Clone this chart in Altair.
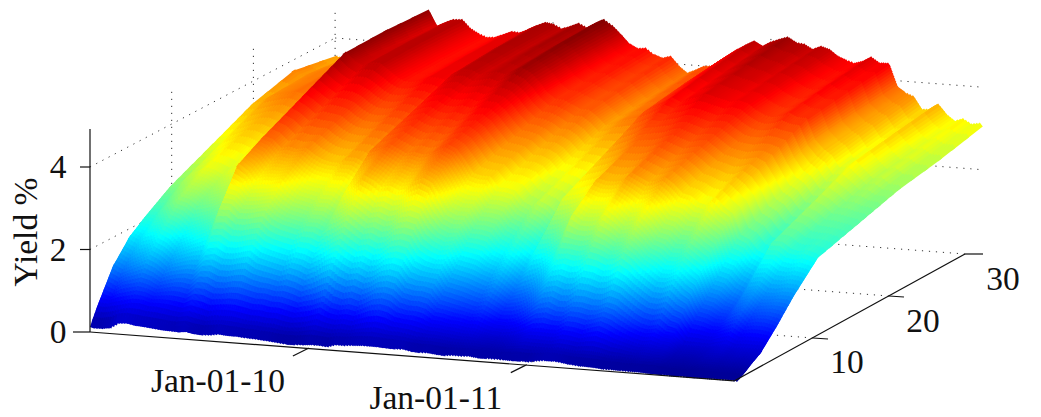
import altair as alt
import numpy as np
import pandas as pd

# Yield (%): one list per maturity, one value per two-week date
first_date = "2009-01-02"
maturities = [0.08, 1, 2, 3, 5, 7, 10, 20, 25, 30]
y_1m = [.02,.02,.05,.2,.2,.15,.15,.12,.1,.1,
        .1,.12,.08,.08,.08,.13,.1,.11,.1,.09,
        .08,.06,.05,.03,.02,.02,.03,.04,.03,.1,
        .11,.12,.12,.11,.12,.12,.11,.13,.1,.08,
        .09,.07,.06,.09,.08,.1,.08,.09,.09,.07,
        .06,.05,.05,.1,.14,.13,.11,.08,.05,.04,
        .04,.03,.03,.03,.03,.02,.02,.02,.02,.01,
        .01,.01,.01,.01,.01,.01,.01,.0]
y_1y = [.45,.45,.5,.55,.6,.6,.55,.55,.52,.48,
        .45,.5,.45,.4,.45,.45,.45,.42,.38,.38,
        .35,.35,.3,.28,.3,.35,.4,.35,.32,.35,
        .33,.38,.42,.45,.42,.38,.38,.35,.3,.3,
        .3,.28,.25,.24,.25,.25,.22,.2,.2,.24,
        .26,.3,.28,.28,.27,.3,.28,.25,.27,.27,
        .25,.2,.2,.18,.17,.2,.18,.16,.12,.11,
        .1,.1,.1,.12,.11,.11,.11,.12]
y_2y = [.85,.75,.9,.95,1.0,.95,.85,.9,.95,.95,
        .9,1.1,1.1,1.0,1.0,1.05,1.05,1.0,.95,.95,
        .9,.9,.85,.78,.85,.9,1.0,.85,.8,.85,
        .8,.9,1.02,1.05,1.0,.85,.8,.8,.75,.62,
        .6,.55,.55,.5,.5,.42,.38,.36,.38,.42,
        .5,.6,.62,.6,.6,.72,.7,.65,.72,.78,
        .7,.6,.52,.45,.4,.43,.38,.35,.22,.2,
        .2,.22,.27,.28,.25,.27,.25,.27]
y_3y = [1.25,1.15,1.25,1.35,1.45,1.35,1.2,1.3,1.35,1.4,
        1.4,1.65,1.7,1.6,1.6,1.65,1.7,1.55,1.5,1.45,
        1.4,1.5,1.45,1.35,1.45,1.6,1.7,1.55,1.45,1.5,
        1.4,1.45,1.6,1.65,1.6,1.35,1.3,1.3,1.25,1.0,
        .95,.9,.85,.8,.85,.75,.65,.65,.7,.8,
        .95,1.1,1.15,1.05,1.05,1.2,1.2,1.15,1.15,1.25,
        1.2,1.05,.9,.8,.75,.8,.65,.6,.35,.35,
        .35,.35,.4,.45,.38,.4,.4,.4]
y_5y = [1.75,1.65,1.85,1.9,2.05,1.95,1.75,1.85,1.95,2.05,
        2.2,2.7,2.7,2.5,2.5,2.55,2.6,2.4,2.3,2.25,
        2.2,2.3,2.3,2.2,2.4,2.5,2.65,2.5,2.35,2.4,
        2.3,2.35,2.55,2.6,2.55,2.2,2.05,1.95,2.0,1.65,
        1.6,1.55,1.45,1.38,1.48,1.32,1.15,1.25,1.35,1.5,
        1.7,1.95,2.0,1.95,2.0,2.2,2.15,2.05,2.1,2.25,
        2.1,1.9,1.75,1.6,1.6,1.7,1.5,1.35,.95,.9,
        .8,.8,.95,1.05,.85,.9,.9,.85]
y_7y = [2.05,2.05,2.25,2.4,2.55,2.5,2.35,2.4,2.45,2.55,
        2.7,3.45,3.3,3.05,3.1,3.1,3.15,2.95,2.8,2.75,
        2.7,2.85,2.85,2.7,3.05,3.2,3.4,3.3,3.15,3.2,
        3.1,3.15,3.35,3.45,3.35,3.05,2.7,2.6,2.6,2.3,
        2.3,2.25,2.0,1.9,2.05,1.9,1.75,2.05,2.1,2.25,
        2.4,2.85,2.7,2.7,2.75,3.0,2.85,2.65,2.7,2.9,
        2.7,2.45,2.4,2.2,2.2,2.35,2.2,2.05,1.5,1.45,
        1.25,1.15,1.4,1.45,1.3,1.3,1.35,1.35]
y_10y = [2.45,2.5,2.7,2.8,2.95,2.9,2.8,2.9,3.0,3.1,
         3.2,3.8,3.75,3.55,3.6,3.55,3.6,3.45,3.35,3.3,
         3.3,3.45,3.45,3.35,3.7,3.75,3.85,3.75,3.65,3.7,
         3.65,3.7,3.85,3.95,3.85,3.6,3.3,3.25,3.25,3.0,
         3.0,2.95,2.7,2.6,2.75,2.65,2.45,2.9,2.95,3.0,
         3.1,3.4,3.35,3.35,3.4,3.6,3.5,3.4,3.45,3.55,
         3.4,3.2,3.15,3.0,2.95,3.15,2.95,2.8,2.3,2.2,
         1.95,1.85,2.2,2.2,2.05,2.0,2.05,1.98]
y_20y = [3.4,3.45,3.6,3.65,3.7,3.75,3.7,3.8,3.95,4.1,
         4.2,4.8,4.6,4.5,4.6,4.6,4.45,4.3,4.2,4.2,
         4.25,4.35,4.35,4.3,4.5,4.6,4.6,4.5,4.55,4.6,
         4.55,4.65,4.75,4.65,4.45,4.2,4.05,4.05,3.95,3.85,
         3.85,3.7,3.5,3.55,3.65,3.7,3.75,3.95,4.05,4.15,
         4.3,4.2,4.3,4.35,4.45,4.4,4.35,4.3,4.35,4.3,
         4.15,4.05,4.0,4.05,4.15,4.05,4.05,3.55,3.35,3.2,
         2.9,2.95,3.1,2.9,2.7,2.75,2.6,2.6]
y_25y = [3.68,3.55,3.65,3.7,3.7,3.8,3.75,3.85,4.0,4.15,
         4.3,4.82,4.5,4.52,4.62,4.63,4.45,4.32,4.23,4.24,
         4.3,4.4,4.4,4.42,4.58,4.68,4.66,4.55,4.62,4.7,
         4.62,4.73,4.84,4.72,4.52,4.28,4.16,4.17,4.05,3.97,
         4.0,3.8,3.63,3.7,3.8,3.83,3.95,4.12,4.25,4.36,
         4.48,4.38,4.48,4.55,4.63,4.55,4.52,4.42,4.5,4.44,
         4.3,4.2,4.15,4.2,4.32,4.2,4.2,3.68,3.5,3.4,
         3.1,3.12,3.28,3.06,2.88,2.94,2.81,2.8]
y_30y = [3.5,3.45,3.55,3.6,3.55,3.7,3.65,3.75,3.85,4.05,
         4.2,4.78,4.40,4.51,4.60,4.62,4.42,4.31,4.23,4.25,
         4.33,4.42,4.41,4.50,4.61,4.70,4.67,4.58,4.65,4.74,
         4.65,4.77,4.88,4.75,4.55,4.34,4.24,4.26,4.12,4.05,
         4.11,3.88,3.73,3.82,3.93,3.95,4.1,4.25,4.40,4.52,
         4.63,4.52,4.64,4.72,4.79,4.68,4.65,4.54,4.63,4.57,
         4.42,4.34,4.28,4.34,4.46,4.33,4.34,3.80,3.67,3.59,
         3.29,3.30,3.44,3.21,3.06,3.13,3.02,3.05]

z_ticks = [0, 2, 4]
m_ticks = [10, 20, 30]
date_ticks = ["2010-01-01", "2011-01-01"]
date_labels = ["Jan-01-10", "Jan-01-11"]
y_label = "Yield %"
jet_colors = ["#00008f", "#0000ff", "#00ffff", "#ffff00", "#ff0000", "#800000"]
jet_stops = [0, 0.125, 0.375, 0.625, 0.875, 1]

# View of the 3-D box
Z_MAX, Z_TOP = 4.9, 4.88
EPOCH = pd.Timestamp("2009-01-01")
PX_DAY = 0.597


def days(d):
    return (pd.Timestamp(d) - EPOCH).days


def project(day, m, z):
    t = np.asarray(day, float) * PX_DAY
    return 90 + t + 8.17 * np.asarray(m, float), 332 + 0.076 * t - 4.3 * np.asarray(m, float) - 41.25 * np.asarray(z, float)


def axis_point(m):
    return 737 + 7.6 * m, 380 - 4.2 * m


grid = np.array([y_1m, y_1y, y_2y, y_3y, y_5y, y_7y, y_10y, y_20y, y_25y, y_30y]).T
assert grid.shape == (78, 10)
dates = pd.date_range(first_date, periods=len(grid), freq="14D")
date_days = np.array([days(d) for d in dates], float)

# Shade the surface as short coloured strokes, far to near.
# The square stroke caps overhang the ends, so the lowest stroke is left out.
steps = [4, 5, 5, 8, 8, 10, 12, 3, 3]
m_fine = np.concatenate([np.linspace(a, b, n, endpoint=False) for a, b, n in zip(maturities[:-1], maturities[1:], steps)] + [[30.0]])[::-1]
rows = []
for i in range(len(grid)):
    last = i == len(grid) - 1
    n_sub = 1 if last else max(3, int(np.ceil(np.abs(grid[i + 1] - grid[i]).max() * 41.25 / 2.5)))
    for s in range(n_sub):
        f = s / n_sub
        curve = grid[i] if last else grid[i] * (1 - f) + grid[i + 1] * f
        d = date_days[i] if last else date_days[i] + (date_days[i + 1] - date_days[i]) * f
        z_fine = np.interp(m_fine, maturities, curve)
        xs, ys = project(d, m_fine, z_fine)
        for k in range(len(m_fine) - 2):
            rows.append((round(xs[k], 1), round(ys[k], 1), round(xs[k + 1], 1), round(ys[k + 1], 1), round((z_fine[k] + z_fine[k + 1]) / 2, 3)))
surface = pd.DataFrame(rows, columns=["x", "y", "x2", "y2", "z"])

X = alt.X("x:Q", scale=alt.Scale(domain=[8, 1033], nice=False, zero=False), axis=None)
Y = alt.Y("y:Q", scale=alt.Scale(domain=[417, 8], nice=False, zero=False), axis=None)


def seg(points):
    return pd.DataFrame([{"x": a[0], "y": a[1], "x2": b[0], "y2": b[1]} for a, b in points])


def rules(df, **kw):
    return alt.Chart(df).mark_rule(**kw).encode(x=X, y=Y, x2="x2:Q", y2="y2:Q")


# Dotted grid on the walls and floor
end_day = date_days[-1]
dotted = []
for z in z_ticks[1:]:
    dotted.append((project(0, 0, z), project(0, 30, z)))
    dotted.append((project(0, 30, z), project(end_day, 30, z)))
for m in m_ticks:
    dotted.append((project(0, m, 0), project(0, m, Z_TOP)))
    a = axis_point(m)
    dotted.append((a, (a[0] - end_day * PX_DAY, a[1] - 0.076 * end_day * PX_DAY)))
for d in date_ticks:
    dotted.append((project(days(d), 30, 0), project(days(d), 30, Z_TOP)))
    dotted.append((project(days(d), 0, 0), project(days(d), 30, 0)))
grid_layer = rules(seg(dotted), color="#333333", strokeWidth=1, strokeDash=[1.2, 5.8])

surface_layer = alt.Chart(surface).mark_rule(strokeWidth=5, strokeCap="square").encode(
    x=X, y=Y, x2="x2:Q", y2="y2:Q",
    color=alt.Color("z:Q", legend=None, scale=alt.Scale(
        domain=[s * Z_MAX for s in jet_stops], range=jet_colors, interpolate="rgb", clamp=True)),
)

# Solid axes and ticks
corner = project(0, 0, 0)
solid = [
    (corner, project(0, 0, Z_TOP + 0.04)),
    (corner, project(end_day, 0, 0)),
    (project(end_day, 0, 0), axis_point(30)),
]
for z in z_ticks:
    p = project(0, 0, z)
    solid.append(((p[0] - (17 if z == 0 else 10), p[1]), p))
for m in m_ticks:
    p = axis_point(m)
    solid.append((p, (p[0] + 15 + (3 if m == 30 else 0), p[1] + (0 if m == 30 else 1))))
for d in date_ticks:
    p = project(days(d), 0, 0)
    solid.append((p, (p[0] - 15, p[1] + 7.5)))
axis_layer = rules(seg(solid), color="#111111", strokeWidth=1.2)

# Tick labels and the axis title
font = dict(font="Liberation Serif", fontSize=33.5, color="#111111", align="center", baseline="middle")
labels = []
for z in z_ticks:
    p = project(0, 0, z)
    labels.append({"x": p[0] - 32, "y": p[1] + 1, "t": str(z)})
for m, dx, dy in zip(m_ticks, [34, 34, 38], [25, 26, 26]):
    p = axis_point(m)
    labels.append({"x": p[0] + dx, "y": p[1] + dy, "t": str(m)})
for d, lab in zip(date_ticks, date_labels):
    p = project(days(d), 0, 0)
    labels.append({"x": p[0] - 90, "y": p[1] + 33.5, "t": lab})
text_layer = alt.Chart(pd.DataFrame(labels)).mark_text(**font).encode(x=X, y=Y, text="t:N")
title_layer = alt.Chart(pd.DataFrame([{"x": 27, "y": 232, "t": y_label}])).mark_text(angle=270, **font).encode(x=X, y=Y, text="t:N")

chart = alt.layer(grid_layer, surface_layer, axis_layer, text_layer, title_layer).properties(
    width=1025, height=409, padding=0, autosize=alt.AutoSizeParams(type="none"), background="white"
).configure_view(stroke=None)

chart.save("out.html", embed_options={"renderer": "svg", "actions": False})
